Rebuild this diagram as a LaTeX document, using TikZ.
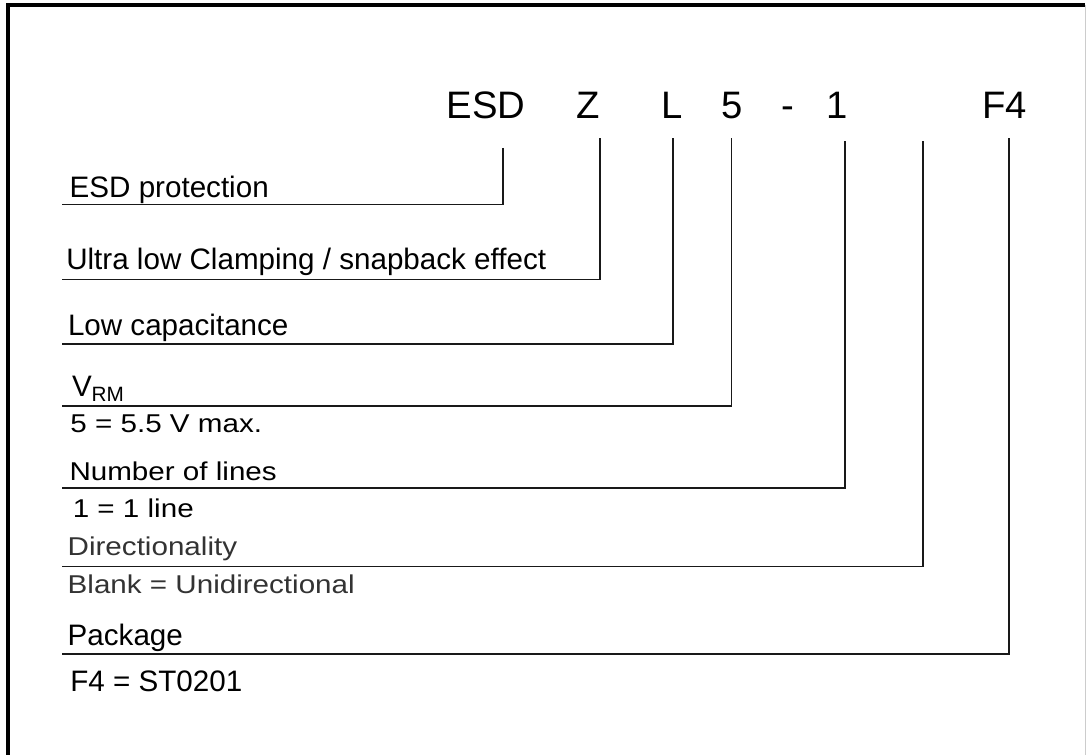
\documentclass[tikz,border=0pt]{standalone}
\usepackage{fontspec}
\setmainfont{Liberation Sans}
\usepackage{graphicx}
\tikzset{
	leader/.style={line width=1.1pt, draw=black!90},
	lbl/.style={anchor=base west, inner sep=0, outer sep=0, font=\fontsize{22.2}{26}\selectfont},
	code/.style={anchor=base west, inner sep=0, outer sep=0, font=\fontsize{28.7}{32}\selectfont}
}
\newcommand{\squeezed}[1]{\scalebox{1}[0.87]{#1}}

\begin{document}
\begin{tikzpicture}[x=0.75pt, y=0.75pt]
	\useasboundingbox[fill=white] (0,0) rectangle (1086,-755);
	% frame
	\draw[line width=2.3pt] (8,-775) -- (8,-5) -- (1085,-5);
	\draw[gray!40, line width=0.7pt] (1085,-5) -- (1085,-775);
	% part number
	\node[code] (cEsd) at (446.6,-119) {ESD};
	\node[code] (cZ) at (576,-119) {Z};
	\node[code] (cL) at (661,-119) {L};
	\node[code] (cFive) at (721.4,-119) {5};
	\node[code] (cDash) at (781,-119) {-};
	\node[code] (cOne) at (826,-119) {1};
	\node[code] (cPkg) at (982,-119) {F4};
	% leader tops
	\coordinate (tEsd) at (503,-148);
	\coordinate (tZ) at (600,-138.5);
	\coordinate (tL) at (673,-138.5);
	\coordinate (tFive) at (731.5,-138.5);
	\coordinate (tOne) at (845,-141.5);
	\coordinate (tDir) at (923,-141.5);
	\coordinate (tPkg) at (1009,-138.5);
	% leader ends
	\coordinate (eEsd) at (62,-204.5);
	\coordinate (eZ) at (62,-279.5);
	\coordinate (eL) at (62,-344);
	\coordinate (eFive) at (62,-406);
	\coordinate (eOne) at (62,-488);
	\coordinate (eDir) at (62,-566.5);
	\coordinate (ePkg) at (62,-654);
	% labels
	\node[lbl] (lEsd) at (69.7,-197.5) {ESD protection};
	\node[lbl] (lZ) at (66.3,-270) {Ultra low Clamping / snapback effect};
	\node[lbl] (lL) at (68,-336) {Low capacitance};
	\node[lbl] (lVrm) at (72,-396.7) {V\textsubscript{RM}};
	\node[lbl] (lVrmVal) at (70.4,-432.7) {\squeezed{5 = 5.5 V max.}};
	\node[lbl] (lLines) at (69.5,-481) {\squeezed{Number of lines}};
	\node[lbl] (lLinesVal) at (72.8,-517.7) {\squeezed{1 = 1 line}};
	\node[lbl, text=black!80] (lDir) at (67.7,-556) {\squeezed{Directionality}};
	\node[lbl, text=black!80] (lDirVal) at (67.7,-593.5) {\squeezed{Blank = Unidirectional}};
	\node[lbl] (lPkg) at (67.7,-645) {Package};
	\node[lbl] (lPkgVal) at (70.3,-691.7) {F4 = ST0201};
	% leaders
	\foreach \t/\e in {tEsd/eEsd, tZ/eZ, tL/eL, tFive/eFive, tOne/eOne, tDir/eDir, tPkg/ePkg}
		\draw[leader] (\t) |- (\e);
\end{tikzpicture}
\end{document}
